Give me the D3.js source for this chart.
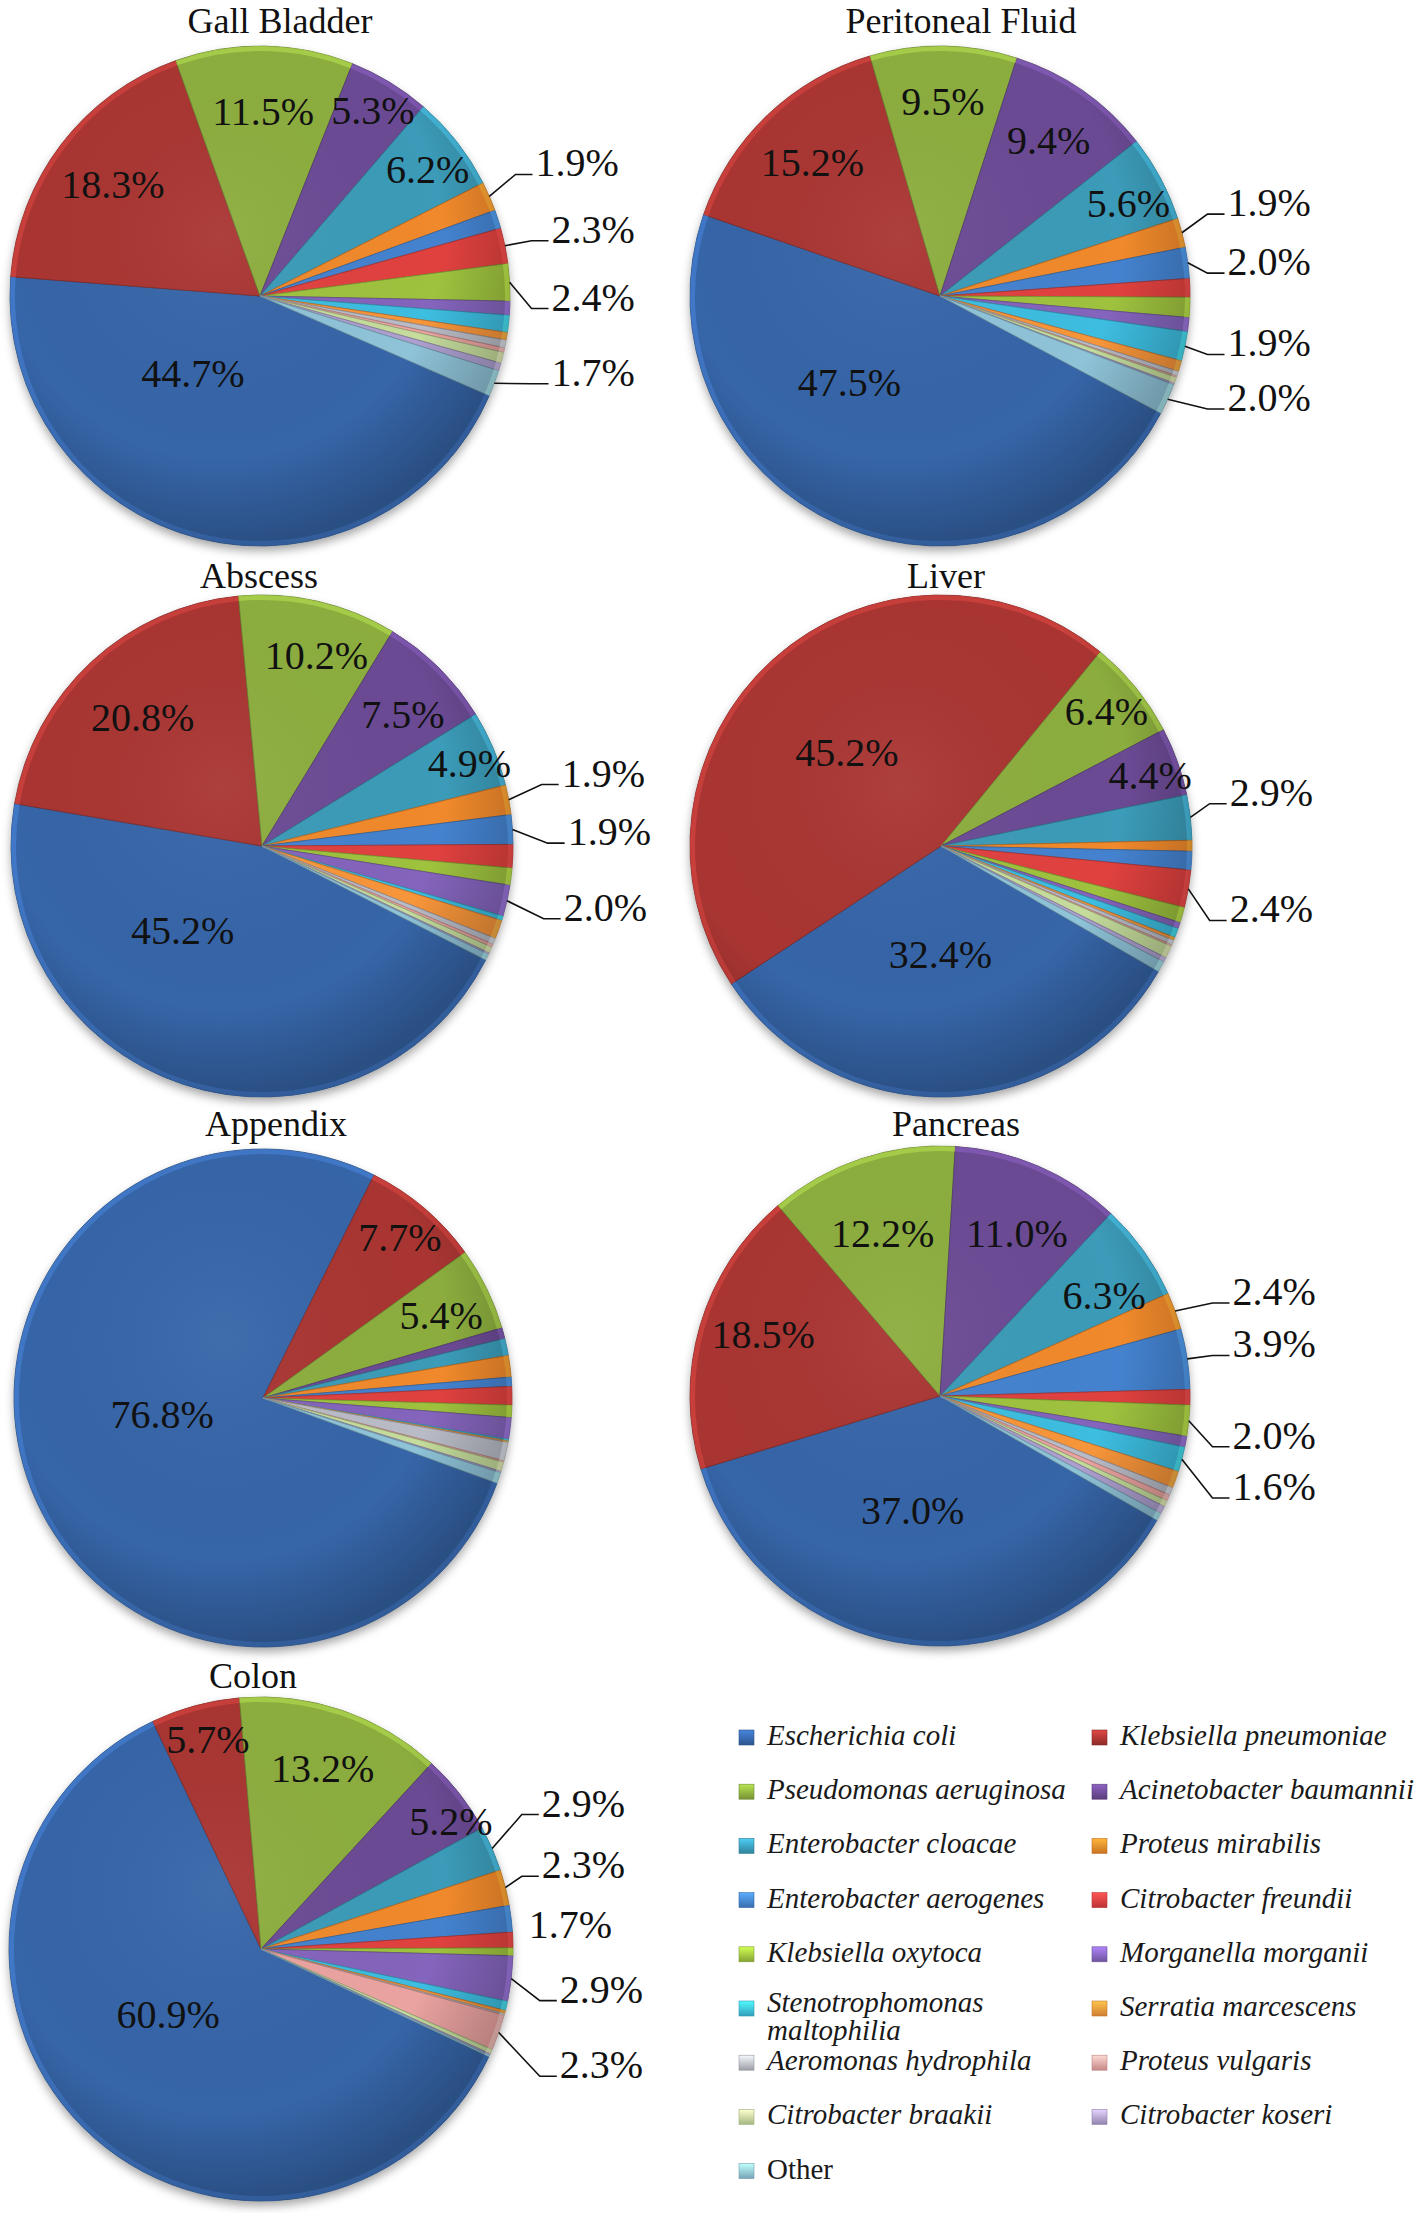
<!DOCTYPE html>
<html><head><meta charset="utf-8">
<script src="https://cdn.jsdelivr.net/npm/d3@7"></script>
<style>
body{margin:0;background:#fff}
svg{display:block}
.title{font-family:"Liberation Serif","Times New Roman",serif;font-size:36px;fill:#111}
.lbl{font-family:"Liberation Serif","Times New Roman",serif;font-size:40px;fill:#111}
.leg{font-family:"Liberation Serif","Times New Roman",serif;font-size:29px;fill:#1a1a1a}
</style>
</head><body>
<svg id="chart" width="1418" height="2213"></svg>
<script>
// ---------------- DATA ----------------
const species = ["Escherichia coli","Klebsiella pneumoniae","Pseudomonas aeruginosa","Acinetobacter baumannii",
  "Enterobacter cloacae","Proteus mirabilis","Enterobacter aerogenes","Citrobacter freundii",
  "Klebsiella oxytoca","Morganella morganii","Stenotrophomonas maltophilia","Serratia marcescens",
  "Aeromonas hydrophila","Proteus vulgaris","Citrobacter braakii","Citrobacter koseri","Other"];
const sites = ["Gall Bladder","Peritoneal Fluid","Abscess","Liver","Appendix","Pancreas","Colon"];

const gallBladder     = [44.7,18.3,11.5,5.3,6.2,1.9,1.2,2.3,2.4,0.9,1.1,0.5,0.5,0.3,0.7,0.5,1.7];
const peritonealFluid = [47.5,15.2,9.5,9.4,5.6,1.9,2.0,1.2,1.3,0.9,1.9,0.7,0.3,0.1,0.4,0.1,2.0];
const abscess         = [45.2,20.8,10.2,7.5,4.9,1.9,1.9,1.5,1.1,2.0,0.3,1.2,0.4,0.2,0.4,0.1,0.4];
const liver           = [32.4,45.2,6.4,4.4,2.9,0.7,1.2,2.4,1.0,0.4,0.6,0.2,0.3,0.1,0.8,0.3,0.7];
const appendix        = [76.8,7.7,5.4,0.7,1.1,1.4,0.6,1.2,0.8,1.4,0.1,0.1,1.2,0.1,0.6,0.1,0.7];
const pancreas        = [37.0,18.5,12.2,11.0,6.3,2.4,3.9,1.0,2.0,0.7,1.6,1.1,0.5,0.4,0.4,0.5,0.5];
const colon           = [60.9,5.7,13.2,5.2,2.9,2.3,1.7,1.0,0.5,2.9,0.6,0.2,0.1,2.3,0.3,0.1,0.1];
const siteValues = [gallBladder,peritonealFluid,abscess,liver,appendix,pancreas,colon];

// ---------------- STYLE / LAYOUT ----------------
const colors = ["#3665a8","#a93532","#8cad3e","#6b4a94","#3b9bb8","#f0892b","#4482cf","#e0413f",
  "#9ec23e","#8464bc","#3dbde0","#f7953a","#b9bcc6","#eaa3a0","#c5dc9c","#ad9fd0","#8fc3d8"];

// inside: [sliceIndex, angleShiftDeg, radiusFrac]; outside: [sliceIndex, dy, dx, noLeader]
const layout = [
  {cx:260, cy:296, r:250, start:113.5, tx:280, ty:33,
   inside:[[0,27,0.41],[1],[2],[3,0,0.87],[4,1,0.84]],
   outside:[[5,0,-12],[7,7,4],[8,31,4],[16,-15,4]]},
  {cx:940, cy:296, r:250, start:118, tx:961, ty:33,
   inside:[[0,23,0.50],[1],[2,0,0.78],[3,0,0.76],[4,2,0.84]],
   outside:[[5,-4],[6,19],[10,0],[16,-9]]},
  {cx:262, cy:846, r:251, start:117, tx:259, ty:588,
   inside:[[0,25,0.46],[1,0,0.70],[2,3,0.79],[3,2,0.77],[4,1,0.89]],
   outside:[[5,-4,11],[6,19,17],[9,9,13]]},
  {cx:941, cy:846, r:251, start:120, tx:946, ty:588,
   inside:[[0,2,0.43],[1,-3,0.53],[2,0,0.85],[3,1,0.88]],
   outside:[[4,-6],[7,25]]},
  {cx:263, cy:1398, r:249, start:110, tx:276, ty:1136,
   inside:[[0,13,0.41],[1,0,0.85],[2,1,0.79]],
   outside:[]},
  {cx:940, cy:1396, r:250, start:119.8, tx:956, ty:1136,
   inside:[[0,7,0.47],[1,3,0.75],[2,-1,0.69],[3,2,0.72],[4,4,0.77]],
   outside:[[5,11,5],[6,6,5],[8,23,5],[10,28,5]]},
  {cx:261, cy:1949, r:252, start:115.3, tx:253, ty:1688,
   inside:[[0,10,0.45],[1,1,0.86],[2,0,0.76],[3,4,0.91]],
   outside:[[4,-12,-9],[5,3,-9],[6,25,-22,true],[9,18,9],[13,29,9]]}
];

const fmt = v => d3.format(".1f")(v) + "%";
const svg = d3.select("#chart");
const defs = svg.append("defs");
defs.append("filter").attr("id","shadow").attr("x","-20%").attr("y","-20%").attr("width","140%").attr("height","150%")
  .append("feDropShadow").attr("dx",0).attr("dy",5).attr("stdDeviation",5)
  .attr("flood-color","#000").attr("flood-opacity",0.35);
const shade = defs.append("radialGradient").attr("id","shade").attr("cx","42%").attr("cy","38%").attr("r","62%");
shade.append("stop").attr("offset","0%").attr("stop-color","#fff").attr("stop-opacity",0.05);
shade.append("stop").attr("offset","72%").attr("stop-color","#000").attr("stop-opacity",0.0);
shade.append("stop").attr("offset","100%").attr("stop-color","#000").attr("stop-opacity",0.22);

colors.forEach((c,i) => {
  const lg = defs.append("linearGradient").attr("id","sw"+i).attr("x1","0").attr("y1","0").attr("x2","0").attr("y2","1");
  lg.append("stop").attr("offset","0%").attr("stop-color", d3.color(c).brighter(0.8));
  lg.append("stop").attr("offset","100%").attr("stop-color", d3.color(c).darker(0.5));
});

siteValues.forEach((vals, k) => {
  const L = layout[k];
  const g = svg.append("g").attr("transform", `translate(${L.cx},${L.cy})`);
  const a0 = L.start * Math.PI / 180;
  const pie = d3.pie().sort(null).value(d => d).startAngle(a0).endAngle(a0 + 2 * Math.PI);
  const arcs = pie(vals);
  const arc = d3.arc().innerRadius(0).outerRadius(L.r);
  const rim = d3.arc().innerRadius(L.r - 5).outerRadius(L.r);

  g.append("circle").attr("r", L.r).attr("fill", "#8a8a8a").attr("filter", "url(#shadow)");
  g.selectAll("path.slice").data(arcs).join("path").attr("class","slice")
    .attr("d", arc).attr("fill", (d,i) => colors[i])
    .attr("stroke", (d,i) => d3.color(colors[i]).darker(0.8)).attr("stroke-width", 0.8)
    .attr("stroke-linejoin","round");
  g.selectAll("path.rim").data(arcs).join("path").attr("class","rim")
    .attr("d", rim).attr("fill", (d,i) => d3.color(colors[i]).brighter(0.8)).attr("opacity", 0.55);
  g.append("circle").attr("r", L.r).attr("fill", "url(#shade)");

  svg.append("text").attr("class","title").attr("x", L.tx).attr("y", L.ty)
    .attr("text-anchor","middle").text(sites[k]);

  L.inside.forEach(([i, dA = 0, rf]) => {
    const d = arcs[i], v = vals[i];
    const mid = (d.startAngle + d.endAngle) / 2 + dA * Math.PI / 180;
    const R = (rf ?? (v >= 9 ? 0.74 : 0.86)) * L.r;
    g.append("text").attr("class","lbl").attr("text-anchor","middle")
      .attr("x", R * Math.sin(mid)).attr("y", -R * Math.cos(mid) + 14).text(fmt(v));
  });

  L.outside.forEach(([i, dy = 0, dx = 0, noLeader = false]) => {
    const d = arcs[i], v = vals[i];
    const mid = (d.startAngle + d.endAngle) / 2;
    const by = -1.2 * L.r * Math.cos(mid) + dy;
    const tx = 1.15 * L.r + dx;
    g.append("text").attr("class","lbl").attr("x", tx).attr("y", by).text(fmt(v));
    if (!noLeader) {
      const p = d3.path();
      p.moveTo(L.r * Math.sin(mid), -L.r * Math.cos(mid));
      p.lineTo(tx - 20, by - 2);
      p.lineTo(tx - 3, by - 2);
      g.append("path").attr("d", p.toString()).attr("fill","none")
        .attr("stroke","#111").attr("stroke-width",1.6);
    }
  });
});

// ---------------- LEGEND ----------------
const legX = [739, 1092], legTextDx = 28, legY0 = 1745, legStep = 54.2;
species.forEach((name, i) => {
  const row = Math.floor(i / 2), col = i % 2;
  const x = legX[col], y = legY0 + row * legStep;
  svg.append("rect").attr("x", x).attr("y", y - 15).attr("width", 15).attr("height", 15)
    .attr("fill", `url(#sw${i})`).attr("stroke", d3.color(colors[i]).darker(0.6)).attr("stroke-width", 0.6);
  const t = svg.append("text").attr("class","leg").attr("x", x + legTextDx).attr("y", y)
    .attr("font-style", name === "Other" ? "normal" : "italic").text(name);
  if (t.node().getComputedTextLength() > 315) {
    const words = name.split(" ");
    t.text(null);
    t.append("tspan").attr("x", x + legTextDx).attr("y", y - 4).text(words[0]);
    t.append("tspan").attr("x", x + legTextDx).attr("y", y + 24).text(words.slice(1).join(" "));
  }
});
</script>
</body></html>
